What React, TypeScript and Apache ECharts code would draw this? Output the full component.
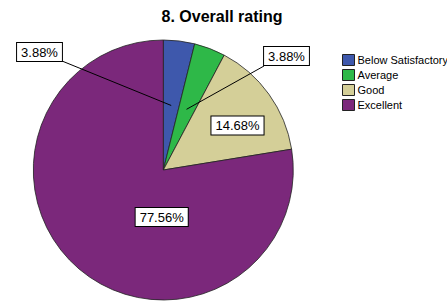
import React, { useEffect, useRef } from "react";
import * as echarts from "echarts";

const categories = ["Below Satisfactory", "Average", "Good", "Excellent"];
const percents = [3.88, 3.88, 14.68, 77.56];
const colors = ["#3E58AC", "#2EB848", "#D4CF98", "#7B287B"];

// layout only
const CX = 163.3;
const CY = 170;
const R = 130;
const labelCenters: [number, number][] = [
  [39.5, 52],
  [286.5, 56],
  [237.5, 125.5],
  [161.7, 217],
];
// label-box corner each leader line reaches (null = no leader)
const leaderEnds: ([number, number] | null)[] = [[62, 61], [264, 66], null, null];

export default function App() {
  const ref = useRef<HTMLDivElement>(null);
  useEffect(() => {
    document.body.style.margin = "0";
    const chart = echarts.init(ref.current!, null, { renderer: "svg" });
    const total = percents.reduce((a, b) => a + b, 0);
    let cum = 0;
    const leaders: any[] = [];
    percents.forEach((p, i) => {
      const mid = ((cum + p / 2) / total) * Math.PI * 2;
      cum += p;
      const end = leaderEnds[i];
      if (!end) return;
      leaders.push({
        type: "line",
        silent: true,
        z: 10,
        shape: {
          x1: CX + (R / 2) * Math.sin(mid),
          y1: CY - (R / 2) * Math.cos(mid),
          x2: end[0],
          y2: end[1],
        },
        style: { stroke: "#000", lineWidth: 1 },
      });
    });
    chart.setOption({
      animation: false,
      backgroundColor: "#ffffff",
      title: {
        text: "8. Overall rating",
        left: 217,
        textAlign: "center",
        top: 3,
        textStyle: {
          fontFamily: "Liberation Sans, Arial, sans-serif",
          fontSize: 16,
          fontWeight: "bold",
          color: "#000",
        },
      },
      legend: {
        orient: "vertical",
        left: 337,
        top: 49,
        itemWidth: 12,
        itemHeight: 11,
        itemGap: 3,
        icon: "rect",
        data: categories,
        itemStyle: { borderColor: "#222", borderWidth: 1 },
        textStyle: {
          fontFamily: "Liberation Sans, Arial, sans-serif",
          fontSize: 11,
          color: "#000",
          padding: [0, 0, 0, -2],
        },
      },
      graphic: leaders,
      series: [
        {
          type: "pie",
          center: [CX, CY],
          radius: R,
          startAngle: 90,
          clockwise: true,
          avoidLabelOverlap: false,
          z: 2,
          itemStyle: { borderColor: "#222", borderWidth: 0.8 },
          label: {
            show: true,
            position: "outside",
            formatter: (p: any) => percents[p.dataIndex].toFixed(2) + "%",
            fontFamily: "Liberation Sans, Arial, sans-serif",
            fontSize: 13,
            color: "#000",
            backgroundColor: "#fff",
            borderColor: "#000",
            borderWidth: 1,
            padding: [3, 4, 2, 4],
          },
          labelLine: { show: false },
          labelLayout: (params: any) => {
            const c = labelCenters[params.dataIndex];
            return { x: c[0], y: c[1], align: "center", verticalAlign: "middle" };
          },
          emphasis: { disabled: true },
          data: categories.map((name, i) => ({
            name,
            value: percents[i],
            itemStyle: { color: colors[i] },
          })),
        },
      ],
    });
    return () => chart.dispose();
  }, []);
  return (
    <div
      ref={ref}
      style={{ position: "absolute", left: 0, top: 0, width: 447, height: 305 }}
    />
  );
}
